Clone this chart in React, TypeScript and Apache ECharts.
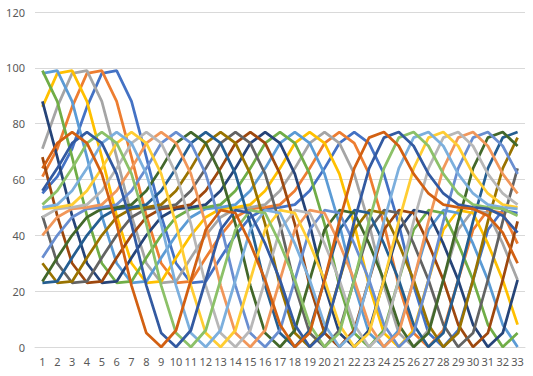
import React, { useEffect, useRef } from "react";
import * as echarts from "echarts";

const categories = ["1","2","3","4","5","6","7","8","9","10","11","12","13","14","15","16","17","18","19","20","21","22","23","24","25","26","27","28","29","30","31","32","33"];

const yTicks = { min: 0, max: 120, interval: 20 };

const s1 = [55,61,71,86,98,99,88,68,47,30,23,23.5,32,40,46.5,49.5,50,51,56,64,73,77,73,62,44,22,5,0,6,24,42,49,48];
const s2 = [61,71,86,98,99,88,68,47,30,23,23.5,32,40,46.5,49.5,50,51,56,64,73,77,73,62,44,22,5,0,6,24,42,49,48,37];
const s3 = [71,86,98,99,88,68,47,30,23,23.5,32,40,46.5,49.5,50,51,56,64,73,77,73,62,44,22,5,0,6,24,42,49,48,37,24];
const s4 = [86,98,99,88,68,47,30,23,23.5,32,40,46.5,49.5,50,51,56,64,73,77,73,62,44,22,5,0,6,24,42,49,48,37,24,8];
const s5 = [98,99,88,68,47,30,23,23.5,32,40,46.5,49.5,50,51,56,64,73,77,73,62,44,22,5,0,6,24,42,49,48,37,24,8,0];
const s6 = [99,88,68,47,30,23,23.5,32,40,46.5,49.5,50,51,56,64,73,77,73,62,44,22,5,0,6,24,42,49,48,37,24,8,0,5];
const s7 = [88,68,47,30,23,23.5,32,40,46.5,49.5,50,51,56,64,73,77,73,62,44,22,5,0,6,24,42,49,48,37,24,8,0,5,24];
const s8 = [68,47,30,23,23.5,32,40,46.5,49.5,50,51,56,64,73,77,73,62,44,22,5,0,6,24,42,49,48,37,24,8,0,5,24,45];
const s9 = [47,30,23,23.5,32,40,46.5,49.5,50,51,56,64,73,77,73,62,44,22,5,0,6,24,42,49,48,37,24,8,0,5,24,45,64];
const s10 = [30,23,23.5,32,40,46.5,49.5,50,51,56,64,73,77,73,62,44,22,5,0,6,24,42,49,48,37,24,8,0,5,24,45,64,75];
const s11 = [23,23.5,32,40,46.5,49.5,50,51,56,64,73,77,73,62,44,22,5,0,6,24,42,49,48,37,24,8,0,5,24,45,64,75,77];
const s12 = [23.5,32,40,46.5,49.5,50,51,56,64,73,77,73,62,44,22,5,0,6,24,42,49,48,37,24,8,0,5,24,45,64,75,77,72];
const s13 = [32,40,46.5,49.5,50,51,56,64,73,77,73,62,44,22,5,0,6,24,42,49,48,37,24,8,0,5,24,45,64,75,77,72,62];
const s14 = [40,46.5,49.5,50,51,56,64,73,77,73,62,44,22,5,0,6,24,42,49,48,37,24,8,0,5,24,45,64,75,77,72,62,55];
const s15 = [46.5,49.5,50,51,56,64,73,77,73,62,44,22,5,0,6,24,42,49,48,37,24,8,0,5,24,45,64,75,77,72,62,55,51];
const s16 = [49.5,50,51,56,64,73,77,73,62,44,22,5,0,6,24,42,49,48,37,24,8,0,5,24,45,64,75,77,72,62,55,51,50];
const s17 = [50,51,56,64,73,77,73,62,44,22,5,0,6,24,42,49,48,37,24,8,0,5,24,45,64,75,77,72,62,55,51,50,49.5];
const s18 = [51,56,64,73,77,73,62,44,22,5,0,6,24,42,49,48,37,24,8,0,5,24,45,64,75,77,72,62,55,51,50,49.5,47];
const s19 = [56,64,73,77,73,62,44,22,5,0,6,24,42,49,48,37,24,8,0,5,24,45,64,75,77,72,62,55,51,50,49.5,47,41];
const s20 = [64,73,77,73,62,44,22,5,0,6,24,42,49,48,37,24,8,0,5,24,45,64,75,77,72,62,55,51,50,49.5,47,41,30];

const seriesNames = ["Series1","Series2","Series3","Series4","Series5","Series6","Series7","Series8","Series9","Series10","Series11","Series12","Series13","Series14","Series15","Series16","Series17","Series18","Series19","Series20"];
const seriesData = [s1,s2,s3,s4,s5,s6,s7,s8,s9,s10,s11,s12,s13,s14,s15,s16,s17,s18,s19,s20];
const palette = ["#4472C4","#ED7D31","#A5A5A5","#FFC000","#5B9BD5","#70AD47","#264478","#9E480E","#636363","#997300","#255E91","#43682B","#698ED0","#F1975A","#B7B7B7","#FFCD33","#7CAFDD","#8CC168","#335AA1","#D26012"];

export default function App() {
  const ref = useRef<HTMLDivElement>(null);
  useEffect(() => {
    if (!ref.current) return;
    const chart = echarts.init(ref.current, undefined, { renderer: "svg" });
    chart.setOption({
      animation: false,
      backgroundColor: "#FFFFFF",
      grid: { left: 35, right: 8, top: 12, bottom: 29, containLabel: false },
      xAxis: {
        type: "category",
        data: categories,
        boundaryGap: true,
        axisLine: { show: true, lineStyle: { color: "#D9D9D9", width: 1 } },
        axisTick: { show: false },
        axisLabel: { interval: 0, color: "#595959", fontSize: 11, margin: 9, fontFamily: "Noto Sans" },
        splitLine: { show: false },
      },
      yAxis: {
        type: "value",
        min: yTicks.min,
        max: yTicks.max,
        interval: yTicks.interval,
        axisLine: { show: false },
        axisTick: { show: false },
        axisLabel: { color: "#595959", fontSize: 11, margin: 10, fontFamily: "Noto Sans" },
        splitLine: { show: true, lineStyle: { color: "#D9D9D9", width: 1 } },
      },
      series: seriesData.map((d, i) => ({
        name: seriesNames[i],
        type: "line",
        data: d,
        symbol: "none",
        smooth: false,
        lineStyle: { width: 2.75, color: palette[i] },
        itemStyle: { color: palette[i] },
      })),
    });
    return () => chart.dispose();
  }, []);
  return (
    <div
      ref={ref}
      style={{ position: "fixed", left: 0, top: 0, width: 533, height: 376, background: "#fff" }}
    />
  );
}
